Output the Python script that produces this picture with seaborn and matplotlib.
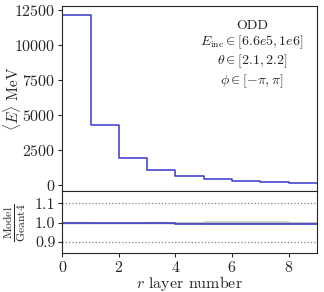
import numpy as np
import pandas as pd
import seaborn as sns
import matplotlib
matplotlib.use("Agg")
import matplotlib.pyplot as plt

sns.set_style("ticks")
plt.rcParams["font.family"] = ["serif"]
plt.rcParams["font.serif"] = ["cmr10", "DejaVu Serif"]
plt.rcParams["mathtext.fontset"] = "cm"
plt.rcParams["axes.formatter.use_mathtext"] = True
plt.rcParams["axes.unicode_minus"] = False

# data
layers = [0, 1, 2, 3, 4, 5, 6, 7, 8]
model_energy = [12150, 4300, 1970, 1060, 650, 450, 330, 250, 190]
ratio = [1.000, 0.998, 0.999, 1.000, 0.995, 0.992, 0.992, 0.991, 0.991]
ratio_err = [0.001, 0.001, 0.001, 0.002, 0.003, 0.005, 0.005, 0.005, 0.004]
geant_err = [0.001, 0.001, 0.001, 0.002, 0.003, 0.006, 0.008, 0.007, 0.005]
xticks = [0, 2, 4, 6, 8]
yticks_main = [0, 2500, 5000, 7500, 10000, 12500]
yticks_ratio = [0.9, 1.0, 1.1]
info_lines = ["ODD", r"$E_{\rm inc} \in [6.6e5, 1e6]$", r"$\theta \in [2.1, 2.2]$", r"$\phi \in [-\pi, \pi]$"]

edges = np.arange(len(layers) + 1)
step_x = list(layers) + [len(layers)]
df_main = pd.DataFrame({"x": step_x, "y": list(model_energy) + [model_energy[-1]]})
df_ratio = pd.DataFrame({"x": step_x, "y": list(ratio) + [ratio[-1]]})

fig = plt.figure(figsize=(3.24, 2.92), dpi=100)
ax = fig.add_axes([0.192, 0.345, 0.786, 0.635])
axr = fig.add_axes([0.192, 0.1325, 0.786, 0.2125], sharex=ax)

blue = "#4848d0"
sns.lineplot(data=df_main, x="x", y="y", drawstyle="steps-post", color=blue, lw=1.2, ax=ax)
ax.vlines(0, -430, model_energy[0], color=blue, lw=1.2)
ax.set_xlim(0, 9)
ax.set_ylim(-430, 12830)
ax.set_yticks(yticks_main)
ax.tick_params(axis="x", labelbottom=False, bottom=False)
ax.tick_params(axis="y", labelsize=11.5, length=3, width=0.8, pad=2)
ax.set_xlabel("")
ax.set_ylabel(r"$\langle E\rangle$ MeV", fontsize=11)
ax.yaxis.set_label_coords(-0.155, 0.5)
for s in ax.spines.values():
    s.set_visible(True)
    s.set_linewidth(0.8)
ax.text(0.745, 0.925, "\n".join(info_lines), transform=ax.transAxes, ha="center", va="top",
        fontsize=10, linespacing=1.15)

# ratio panel
gre = np.array(geant_err)
r = np.array(ratio)
re = np.array(ratio_err)
axr.stairs(1 + gre, edges, baseline=1 - gre, fill=True, color="gray", alpha=0.35, lw=0)
axr.stairs(r + re, edges, baseline=r - re, fill=True, color=blue, alpha=0.3, lw=0)
axr.axhline(1.1, color="gray", ls=":", lw=0.9)
axr.axhline(0.9, color="gray", ls=":", lw=0.9)
axr.axhline(1.0, color="gray", lw=1.0)
sns.lineplot(data=df_ratio, x="x", y="y", drawstyle="steps-post", color=blue, lw=1.2, ax=axr)
axr.set_ylim(0.84, 1.163)
axr.set_yticks(yticks_ratio)
axr.set_yticklabels(["0.9", "1.0", "1.1"])
axr.set_xticks(xticks)
axr.set_xlim(0, 9)
axr.tick_params(labelsize=11.5, length=3, width=0.8, pad=2)
axr.set_xlabel(r"$r$ layer number", fontsize=11.5, labelpad=-1)
axr.set_ylabel(r"$\frac{\rm Model}{\rm Geant4}$", fontsize=12)
axr.yaxis.set_label_coords(-0.135, 0.5)
for s in axr.spines.values():
    s.set_visible(True)
    s.set_linewidth(0.8)

fig.savefig("out.png", dpi=100)
